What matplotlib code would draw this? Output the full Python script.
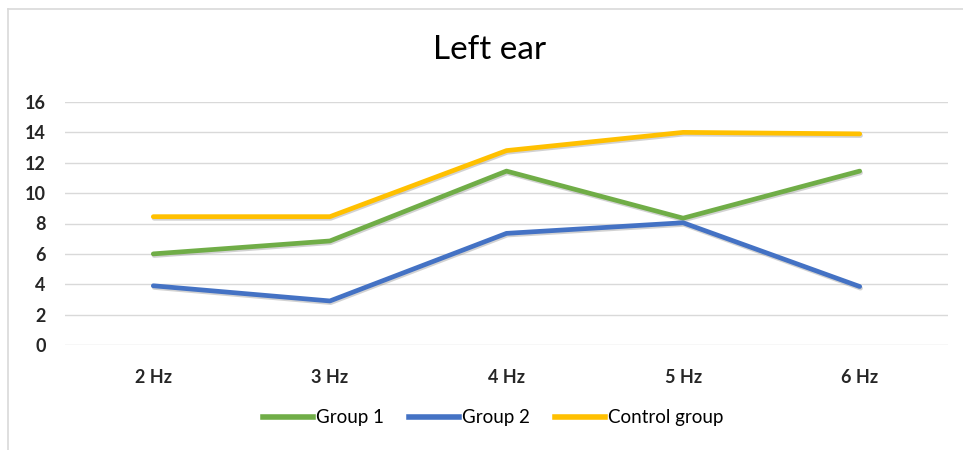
import matplotlib
matplotlib.use("Agg")
import matplotlib.pyplot as plt
import matplotlib.patheffects as pe
from matplotlib.lines import Line2D

categories = ["2 Hz", "3 Hz", "4 Hz", "5 Hz", "6 Hz"]
group1 = [6.0, 6.85, 11.45, 8.35, 11.45]
group2 = [3.9, 2.9, 7.35, 8.05, 3.85]
control = [8.45, 8.45, 12.8, 14.0, 13.9]
series_names = ["Group 1", "Group 2", "Control group"]
colors = ["#70AD47", "#4472C4", "#FFC000"]
yticks = [0, 2, 4, 6, 8, 10, 12, 14, 16]

plt.rcParams['font.family'] = ['Lato', 'DejaVu Sans']

fig = plt.figure(figsize=(9.63, 4.5), dpi=100)
ax = fig.add_axes([65/963, 1 - 345/450, (948-65)/963, (345-102)/450])

x = list(range(len(categories)))
shadow = [pe.SimpleLineShadow(offset=(0.6, -1.2), shadow_color="gray", alpha=0.35), pe.Normal()]
for vals, name, c in zip([group1, group2, control], series_names, colors):
    ax.plot(x, vals, color=c, lw=3.4, solid_capstyle="round", solid_joinstyle="round",
            label=name, path_effects=shadow, zorder=3)

ax.set_xlim(-0.5, len(categories) - 0.5)
ax.set_ylim(0, 16)
ax.set_yticks(yticks)
ax.set_yticklabels([str(v) for v in yticks])
ax.set_xticks(x)
ax.set_xticklabels(categories)
ax.grid(axis="y", color="#D9D9D9", lw=1.0)
ax.set_axisbelow(True)
for s in ax.spines.values():
    s.set_visible(False)
ax.tick_params(length=0, labelsize=13, colors="#404040", labelcolor="#262626")
ax.tick_params(axis="x", pad=17)
ax.tick_params(axis="y", pad=14)
for lab in ax.get_xticklabels() + ax.get_yticklabels():
    lab.set_fontweight("bold")

fig.text(490/963, 1 - 50/450, "Left ear", ha="center", va="center", fontsize=24, color="#000000")

handles = [Line2D([0], [0], color=c, lw=4) for c in colors]
fig.legend(handles, series_names, loc="center", bbox_to_anchor=(493/963, 1 - 418/450),
           ncol=3, frameon=False, fontsize=13.5, handlelength=2.67, handletextpad=0.16,
           columnspacing=1.33)

# outer frame (top and left visible)
fig.add_artist(Line2D([8/963, 1.0], [1 - 9/450, 1 - 9/450], color="#D9D9D9", lw=1.2, transform=fig.transFigure))
fig.add_artist(Line2D([8/963, 8/963], [0, 1 - 9/450], color="#D9D9D9", lw=1.2, transform=fig.transFigure))

fig.savefig("out.png", dpi=100)
